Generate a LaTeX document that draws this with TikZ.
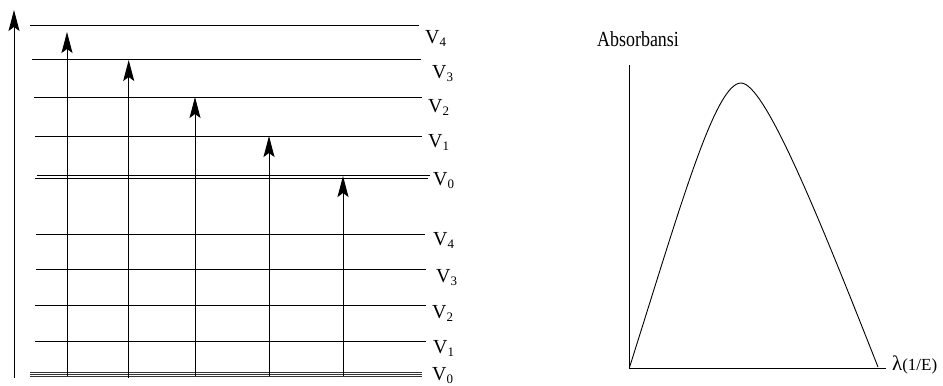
\documentclass[tikz,border=0pt]{standalone}
\usepackage{fontspec}
\setmainfont{Liberation Serif}
\usetikzlibrary{arrows.meta}
\tikzset{
  lvl/.style={line width=1bp, black},
  gnd/.style={line width=1.1bp, black!80},
  up/.style={line width=1bp, -{Stealth[length=21bp, width=11bp, inset=4bp]}},
  vlab/.style={anchor=base west, inner sep=0pt, font=\fontsize{20}{20}\selectfont},
  axis/.style={line width=1bp}
}
\newcommand{\Vl}[1]{V\raisebox{-0.4ex}{\fontsize{13}{13}\selectfont #1}}
\begin{document}
\begin{tikzpicture}[x=1bp, y=-1bp]
\useasboundingbox (0,0) rectangle (943,385);
% vertical energy axis
\coordinate (ab) at (14,378);
\coordinate (at) at (14,10);
\draw[up] (ab) -- (at);
% upper levels
\draw[lvl] (30,25) -- (419,25);
\draw[lvl] (32,59.5) -- (421,59.5);
\draw[lvl] (34,97) -- (422,97);
\draw[lvl] (35,136) -- (422,136);
\draw[lvl] (37,175.5) -- (430,175.5);
\draw[lvl] (35,178) -- (428,178);
% lower levels
\draw[lvl] (36,234) -- (425,234);
\draw[lvl] (36,269) -- (426,269);
\draw[lvl] (35,305.5) -- (426,305.5);
\draw[lvl] (35,341) -- (426,341);
\draw[gnd] (30,372.3) -- (422,372.3);
\draw[gnd] (30,374.6) -- (422,374.6);
\draw[gnd] (30,376.9) -- (422,376.9);
% labels upper
\node[vlab] (u4) at (425,43) {\Vl{4}};
\node[vlab] (u3) at (432,78) {\Vl{3}};
\node[vlab] (u2) at (428,112) {\Vl{2}};
\node[vlab] (u1) at (428,147) {\Vl{1}};
\node[vlab] (u0) at (433,185) {\Vl{0}};
% labels lower
\node[vlab] (l4) at (433,245) {\Vl{4}};
\node[vlab] (l3) at (436,282) {\Vl{3}};
\node[vlab] (l2) at (432,318) {\Vl{2}};
\node[vlab] (l1) at (433,353) {\Vl{1}};
\node[vlab] (l0) at (432,380) {\Vl{0}};
% transitions
\coordinate (b1) at (67,376);   \coordinate (t1) at (67,32);
\coordinate (b2) at (128.7,378); \coordinate (t2) at (128.7,60);
\coordinate (b3) at (195,376);  \coordinate (t3) at (195,97);
\coordinate (b4) at (269,376);  \coordinate (t4) at (269,136);
\coordinate (b5) at (343,376);  \coordinate (t5) at (343,176);
\draw[up] (b1) -- (t1);
\draw[up] (b2) -- (t2);
\draw[up] (b3) -- (t3);
\draw[up] (b4) -- (t4);
\draw[up] (b5) -- (t5);
% right graph
\coordinate (o) at (629.3,368);
\coordinate (ytop) at (629.3,65);
\coordinate (xend) at (886,368);
\coordinate (peak) at (741,83);
\coordinate (cend) at (878,367);
\draw[axis] (ytop) -- (o) -- (xend);
\node[anchor=base west, inner sep=0pt, font=\fontsize{18}{18}\selectfont, yscale=1.2] (ylab) at (597,46) {Absorbansi};
\node[anchor=base west, inner sep=0pt, font=\fontsize{17}{17}\selectfont] (xlab) at (892,370) {{\fontsize{21}{21}\selectfont λ}(1/E)};
\draw[line width=0.9bp] (o) .. controls (680,208) and (715,83) .. (peak)
  .. controls (765,83) and (820,220) .. (cend);
\end{tikzpicture}
\end{document}
